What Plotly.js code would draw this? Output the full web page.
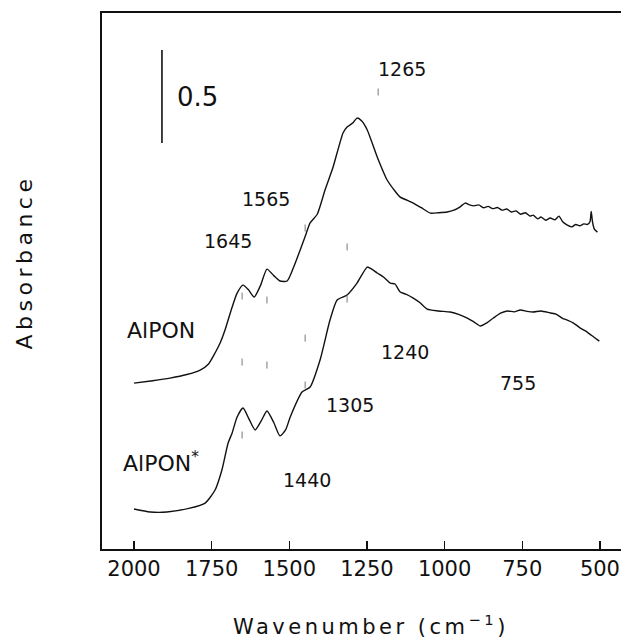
<!DOCTYPE html>
<html>
<head>
<meta charset="utf-8">
<script src="https://cdn.plot.ly/plotly-3.0.1.min.js"></script>
<style>
html, body { margin: 0; padding: 0; background: #fff; overflow: hidden; }
#chart { width: 650px; height: 639px; }
.xtitle { letter-spacing: 3.5px; }
</style>
</head>
<body>
<div id="chart"></div>
<script>
// Top spectrum: AlPON
const wnAlPON = [2000, 1940, 1884, 1830, 1787, 1760, 1739, 1722, 1707, 1688, 1668, 1649, 1632, 1613, 1592, 1572, 1550, 1530, 1507, 1485, 1465, 1449, 1433, 1410, 1385, 1359, 1327, 1314, 1296, 1282, 1266, 1249, 1217, 1185, 1160, 1143, 1120, 1101, 1075, 1046, 1020, 992, 970, 950, 934, 920, 905, 890, 875, 860, 845, 830, 815, 800, 785, 770, 756, 740, 725, 715, 700, 690, 675, 660, 645, 632, 620, 605, 590, 578, 565, 552, 540, 532, 528, 524, 518, 508];
const absAlPON = [0.892, 0.905, 0.919, 0.938, 0.962, 0.995, 1.054, 1.110, 1.177, 1.280, 1.376, 1.419, 1.395, 1.355, 1.420, 1.505, 1.470, 1.441, 1.441, 1.520, 1.608, 1.680, 1.753, 1.800, 1.930, 2.054, 2.237, 2.269, 2.290, 2.317, 2.300, 2.253, 2.108, 1.984, 1.925, 1.892, 1.875, 1.860, 1.835, 1.806, 1.808, 1.812, 1.822, 1.840, 1.860, 1.850, 1.845, 1.850, 1.835, 1.842, 1.830, 1.836, 1.822, 1.828, 1.812, 1.818, 1.800, 1.808, 1.790, 1.795, 1.775, 1.785, 1.768, 1.780, 1.770, 1.790, 1.760, 1.742, 1.732, 1.745, 1.738, 1.748, 1.745, 1.760, 1.815, 1.760, 1.720, 1.704];

// Bottom spectrum: AlPON*
const wnAlPONs = [2000, 1948, 1894, 1820, 1771, 1739, 1717, 1697, 1684, 1668, 1649, 1630, 1610, 1590, 1572, 1550, 1530, 1512, 1497, 1459, 1433, 1401, 1369, 1346, 1314, 1282, 1249, 1235, 1217, 1195, 1175, 1160, 1143, 1125, 1101, 1080, 1056, 1020, 982, 955, 927, 905, 885, 865, 843, 820, 798, 776, 756, 735, 715, 690, 660, 640, 620, 605, 585, 563, 540, 520, 502];
const absAlPONs = [0.215, 0.199, 0.199, 0.220, 0.247, 0.317, 0.425, 0.570, 0.624, 0.710, 0.758, 0.700, 0.640, 0.690, 0.742, 0.680, 0.608, 0.640, 0.710, 0.844, 0.871, 1.016, 1.231, 1.339, 1.366, 1.430, 1.516, 1.505, 1.484, 1.460, 1.430, 1.425, 1.382, 1.370, 1.349, 1.325, 1.290, 1.280, 1.274, 1.262, 1.242, 1.220, 1.199, 1.215, 1.242, 1.268, 1.280, 1.275, 1.285, 1.278, 1.274, 1.280, 1.269, 1.262, 1.240, 1.231, 1.215, 1.188, 1.165, 1.140, 1.118];

// 0.5 absorbance scale bar
const scaleBarX = [1910, 1910];
const scaleBarY = [2.183, 2.683];

// small peak-position marks
const markX = [1652, 1572, 1652, 1572, 1449, 1449, 1449, 1314, 1314, 1214, 1652];
const markY = [1.360, 1.339, 1.005, 0.989, 1.726, 1.134, 0.882, 1.624, 1.344, 2.457, 0.613];

// labels
const labelText = ["0.5", "1265", "1565", "1645", "AlPON", "1240", "755", "1305", "AlPON<sup>*</sup>", "1440"];
const labelX = [1868, 1137, 1575, 1697, 1913, 1127, 763, 1304, 1913, 1443];
const labelY = [2.43, 2.58, 1.88, 1.656, 1.177, 1.059, 0.892, 0.774, 0.47, 0.371];
const labelSize = [26, 19, 19, 19, 22, 19, 19, 19, 22, 19];
const labelAnchor = ["left", "center", "center", "center", "center", "center", "center", "center", "center", "center"];

const tickVals = [2000, 1750, 1500, 1250, 1000, 750, 500];
const tickText = ["2000", "1750", "1500", "1250", "1000", "750", "500"];

const font = "DejaVu Sans, Arial, sans-serif";

const traces = [
  {x: wnAlPON, y: absAlPON, mode: "lines", line: {color: "#111", width: 1.4, shape: "spline", smoothing: 0.6}, hoverinfo: "skip"},
  {x: wnAlPONs, y: absAlPONs, mode: "lines", line: {color: "#111", width: 1.4, shape: "spline", smoothing: 0.6}, hoverinfo: "skip"},
  {x: scaleBarX, y: scaleBarY, mode: "lines", line: {color: "#111", width: 1.6}, hoverinfo: "skip"},
  {x: markX, y: markY, mode: "markers", marker: {symbol: "line-ns", size: 5, line: {color: "#777", width: 1}}, hoverinfo: "skip"}
];

const annotations = labelText.map((t, i) => ({
  text: t, x: labelX[i], y: labelY[i], xref: "x", yref: "y",
  showarrow: false, xanchor: labelAnchor[i], yanchor: "middle",
  font: {family: font, size: labelSize[i], color: "#111"}
}));
annotations.push({
  text: "Absorbance", textangle: -90, xref: "paper", yref: "paper",
  x: -0.145, y: 0.5354, xanchor: "center", yanchor: "middle", showarrow: false,
  font: {family: font, size: 22, color: "#111"}
});

const layout = {
  width: 650, height: 639,
  margin: {l: 102, r: 10, t: 13, b: 90},
  paper_bgcolor: "#fff", plot_bgcolor: "#fff",
  showlegend: false,
  xaxis: {
    range: [2103, 371], tickvals: tickVals, ticktext: tickText,
    ticks: "inside", ticklen: 8, tickwidth: 1.5, tickcolor: "#111",
    showline: true, mirror: true, linewidth: 2, linecolor: "#111",
    showgrid: false, zeroline: false,
    tickfont: {family: font, size: 21, color: "#111"},
    title: {text: "Wavenumber (cm<sup>−1</sup>)", font: {family: font, size: 21, color: "#111"}, standoff: 40}
  },
  yaxis: {
    range: [0, 2.882], showticklabels: false, ticks: "",
    showline: true, mirror: true, linewidth: 2, linecolor: "#111",
    showgrid: false, zeroline: false
  },
  annotations: annotations
};

Plotly.newPlot("chart", traces, layout, {staticPlot: true}).then(() => {
  document.querySelectorAll(".annotation-text").forEach(el => {
    if (el.textContent === "Absorbance") el.style.letterSpacing = "4.5px";
  });
});
</script>
</body>
</html>
